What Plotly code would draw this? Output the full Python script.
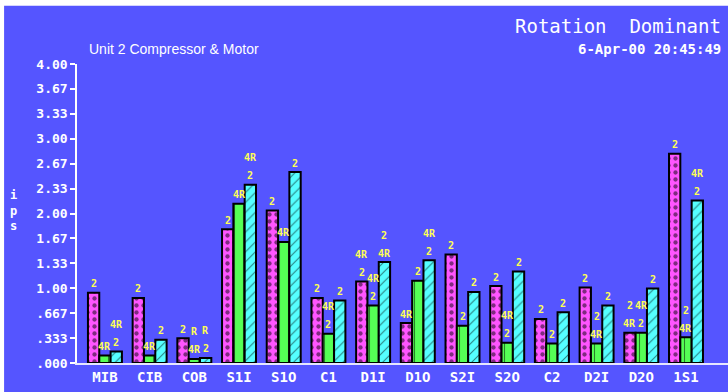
import plotly.graph_objects as go

# Measurement points along the train
categories = ["MIB", "CIB", "COB", "S1I", "S1O", "C1", "D1I", "D1O",
              "S2I", "S2O", "C2", "D2I", "D2O", "1S1"]

# Overall vibration amplitude (ips) per direction
horizontal = [0.94, 0.87, 0.33, 1.79, 2.04, 0.87, 1.09, 0.535,
              1.45, 1.03, 0.59, 1.01, 0.405, 2.80]
vertical = [0.10, 0.10, 0.055, 2.13, 1.62, 0.39, 0.77, 1.10,
            0.50, 0.27, 0.26, 0.26, 0.405, 0.345]
axial = [0.155, 0.31, 0.067, 2.385, 2.555, 0.835, 1.35, 1.375,
         0.95, 1.225, 0.68, 0.77, 0.995, 2.175]

# Dominant-order tags printed above each bar (bottom to top)
horizontal_tags = [["2"], ["2"], ["2"], ["2"], ["2"], ["2"], ["2", "4R"], ["4R"],
                   ["2"], ["2"], ["2"], ["2"], ["4R", "2"], ["2"]]
vertical_tags = [["4R"], ["4R"], ["4R", "R"], ["4R"], ["4R"], ["2", "4R"], ["2", "4R"], ["2"],
                 ["2"], ["2", "4R"], ["2"], ["4R", "2"], ["2", "4R"], ["4R", "2"]]
axial_tags = [["2", "4R"], ["2"], ["2", "R"], ["2", "4R"], ["2"], ["2"], ["4R", "2"], ["2", "4R"],
              ["2"], ["2"], ["2"], ["2"], ["2"], ["2", "4R"]]

y_tick_vals = [0, 0.333, 0.667, 1.0, 1.333, 1.667, 2.0, 2.333, 2.667, 3.0, 3.333, 3.667, 4.0]
y_tick_text = [".000", ".333", ".667", "1.00", "1.33", "1.67", "2.00", "2.33",
               "2.67", "3.00", "3.33", "3.67", "4.00"]

BG = "#5555FF"
MONO = "DejaVu Sans Mono"
x = list(range(len(categories)))

series = [
    ("Horizontal", horizontal, horizontal_tags, "#FF55FF", ".", 7, 0.3),
    ("Vertical", vertical, vertical_tags, "#55FF55", "|", 9, 0.12),
    ("Axial", axial, axial_tags, "#55FFFF", "/", 7, 0.15),
]

fig = go.Figure()
for name, vals, _, color, shape, size, solid in series:
    fig.add_trace(go.Bar(
        name=name, x=x, y=vals,
        marker=dict(color=color,
                    line=dict(color="black", width=2),
                    pattern=dict(shape=shape, fgcolor="black", bgcolor=color,
                                 size=size, solidity=solid)),
    ))

bargap = 0.24
bar_w = (1 - bargap) / len(series)
annotations = []
for k, (name, vals, tags, *_rest) in enumerate(series):
    off = (k - 1) * bar_w
    for i, v in enumerate(vals):
        for j, t in enumerate(tags[i]):
            annotations.append(dict(
                x=i + off, y=v, xref="x", yref="y", text=t, showarrow=False,
                yanchor="middle", yshift=9 + 18 * j,
                font=dict(family=MONO, size=10, color="#FFFF55", weight="bold"),
            ))

annotations += [
    dict(text="Rotation  Dominant", xref="paper", yref="paper", x=0.993, y=1.128,
         xanchor="right", yanchor="middle", showarrow=False,
         font=dict(family=MONO, size=19, color="white")),
    dict(text="6-Apr-00 20:45:49", xref="paper", yref="paper", x=0.993, y=1.051,
         xanchor="right", yanchor="middle", showarrow=False,
         font=dict(family=MONO, size=14, color="white", weight="bold")),
    dict(text="Unit 2 Compressor & Motor", xref="paper", yref="paper", x=0.015, y=1.051,
         xanchor="left", yanchor="middle", showarrow=False,
         font=dict(family="Liberation Sans", size=14, color="white")),
    dict(text="i<br>p<br>s", xref="paper", yref="paper", x=-0.097, y=0.51,
         xanchor="center", yanchor="middle", showarrow=False,
         font=dict(family=MONO, size=12, color="white", weight="bold")),
]

fig.update_layout(
    width=728, height=392,
    margin=dict(l=77, r=0, t=64, b=29),
    paper_bgcolor="white", plot_bgcolor="rgba(0,0,0,0)",
    barmode="group", bargap=bargap, bargroupgap=0,
    showlegend=False,
    annotations=annotations,
    shapes=[dict(type="rect", xref="paper", yref="paper", x0=-0.112, x1=1.01,
                 y0=-0.1, y1=1.195, fillcolor=BG, line=dict(width=0), layer="below")],
    xaxis=dict(range=[-0.625, 13.94], tickmode="array", tickvals=x, ticktext=categories,
               showgrid=False, zeroline=False, showline=True, linecolor="#E6E6FF", linewidth=2,
               ticks="", tickfont=dict(family=MONO, size=14, color="white", weight="bold")),
    yaxis=dict(range=[0, 4.0], tickmode="array", tickvals=y_tick_vals, ticktext=y_tick_text,
               showgrid=False, zeroline=False, showline=True, linecolor="white", linewidth=1.5,
               ticks="outside", ticklen=5, tickcolor="white", tickwidth=1.5,
               tickfont=dict(family=MONO, size=13, color="white", weight="bold")),
)

fig.write_html("out.html")
